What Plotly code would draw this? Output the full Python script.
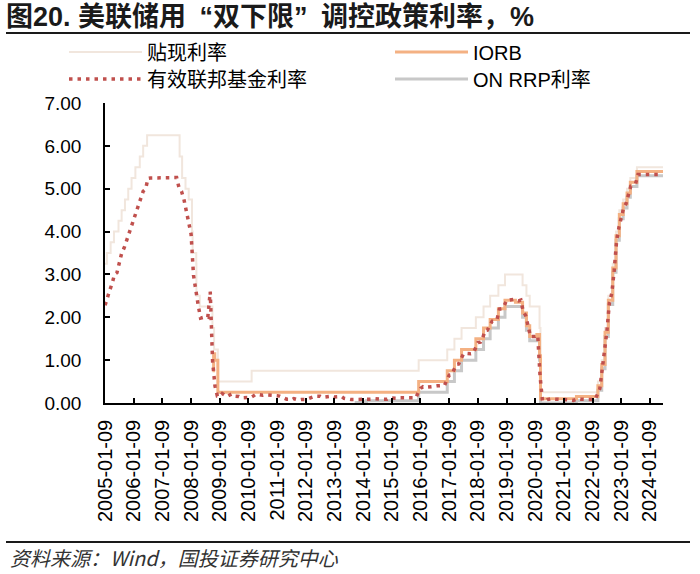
import pandas as pd
import plotly.graph_objects as go

# ---------------- data ----------------
discount_dates = ["2005-01-01", "2005-02-02", "2005-03-22", "2005-05-03", "2005-06-30", "2005-08-09",
                  "2005-09-20", "2005-11-01", "2005-12-13", "2006-01-31", "2006-03-28", "2006-05-10",
                  "2006-06-29", "2007-08-17", "2007-09-18", "2007-10-31", "2007-12-11", "2008-01-22",
                  "2008-01-30", "2008-03-16", "2008-03-18", "2008-04-30", "2008-10-08", "2008-10-29",
                  "2008-12-16", "2010-02-19", "2015-12-17", "2016-12-15", "2017-03-16", "2017-06-15",
                  "2017-12-14", "2018-03-22", "2018-06-14", "2018-09-27", "2018-12-20", "2019-08-01",
                  "2019-09-19", "2019-10-31", "2020-03-04", "2020-03-16", "2022-03-17", "2022-05-05",
                  "2022-06-16", "2022-07-28", "2022-09-22", "2022-11-03", "2022-12-15", "2023-02-02",
                  "2023-03-23", "2023-05-04", "2023-07-27", "2024-06-30"]
discount_vals = [3.25, 3.50, 3.75, 4.00, 4.25, 4.50,
                 4.75, 5.00, 5.25, 5.50, 5.75, 6.00,
                 6.25, 5.75, 5.25, 5.00, 4.75, 4.00,
                 3.50, 3.25, 2.50, 2.25, 1.75, 1.25,
                 0.50, 0.75, 1.00, 1.25, 1.50, 1.75,
                 2.00, 2.25, 2.50, 2.75, 3.00, 2.75,
                 2.50, 2.25, 1.75, 0.25, 0.50, 1.00,
                 1.75, 2.50, 3.25, 4.00, 4.50, 4.75,
                 5.00, 5.25, 5.50, 5.50]

iorb_dates = ["2008-10-09", "2008-10-23", "2008-11-06", "2008-12-16", "2015-12-17", "2016-12-15",
              "2017-03-16", "2017-06-15", "2017-12-14", "2018-03-22", "2018-06-14", "2018-09-27",
              "2018-12-20", "2019-05-02", "2019-08-01", "2019-09-19", "2019-10-31", "2020-01-30",
              "2020-03-04", "2020-03-16", "2021-06-17", "2022-03-17", "2022-05-05", "2022-06-16",
              "2022-07-28", "2022-09-22", "2022-11-03", "2022-12-15", "2023-02-02", "2023-03-23",
              "2023-05-04", "2023-07-27", "2024-06-30"]
iorb_vals = [0.75, 1.15, 1.00, 0.25, 0.50, 0.75,
             1.00, 1.25, 1.50, 1.75, 1.95, 2.20,
             2.40, 2.35, 2.10, 1.80, 1.55, 1.60,
             1.10, 0.10, 0.15, 0.40, 0.90, 1.65,
             2.40, 3.15, 3.90, 4.40, 4.65, 4.90,
             5.15, 5.40, 5.40]

rrp_dates = ["2013-09-23", "2014-01-30", "2014-02-20", "2015-12-17", "2016-12-15", "2017-03-16",
             "2017-06-15", "2017-12-14", "2018-03-22", "2018-06-14", "2018-09-27", "2018-12-20",
             "2019-08-01", "2019-09-19", "2019-10-31", "2020-03-04", "2020-03-16", "2021-06-17",
             "2022-03-17", "2022-05-05", "2022-06-16", "2022-07-28", "2022-09-22", "2022-11-03",
             "2022-12-15", "2023-02-02", "2023-03-23", "2023-05-04", "2023-07-27", "2024-06-30"]
rrp_vals = [0.01, 0.03, 0.05, 0.25, 0.50, 0.75,
            1.00, 1.25, 1.50, 1.75, 2.00, 2.25,
            2.00, 1.70, 1.45, 1.00, 0.00, 0.05,
            0.30, 0.80, 1.55, 2.30, 3.05, 3.80,
            4.30, 4.55, 4.80, 5.05, 5.30, 5.30]

# effective federal funds rate, monthly readings 2005-01 .. 2024-06
effr_vals = [
    2.28, 2.50, 2.63, 2.79, 3.00, 3.04, 3.26, 3.50, 3.62, 3.78, 4.00, 4.16,   # 2005
    4.29, 4.49, 4.59, 4.79, 4.94, 4.99, 5.24, 5.25, 5.25, 5.25, 5.25, 5.24,   # 2006
    5.25, 5.26, 5.26, 5.25, 5.25, 5.25, 5.26, 5.02, 4.94, 4.76, 4.49, 4.24,   # 2007
    3.94, 2.98, 2.61, 2.28, 1.98, 2.00, 2.01, 2.00, 2.60, 0.97, 0.39, 0.16,   # 2008
    0.15, 0.22, 0.18, 0.15, 0.18, 0.21, 0.16, 0.16, 0.15, 0.12, 0.12, 0.12,   # 2009
    0.11, 0.13, 0.16, 0.20, 0.20, 0.18, 0.18, 0.19, 0.19, 0.19, 0.19, 0.18,   # 2010
    0.17, 0.16, 0.14, 0.10, 0.09, 0.09, 0.07, 0.10, 0.08, 0.07, 0.08, 0.07,   # 2011
    0.08, 0.10, 0.13, 0.14, 0.16, 0.16, 0.16, 0.13, 0.14, 0.16, 0.16, 0.16,   # 2012
    0.14, 0.15, 0.14, 0.15, 0.11, 0.09, 0.09, 0.08, 0.08, 0.09, 0.08, 0.09,   # 2013
    0.07, 0.07, 0.08, 0.09, 0.09, 0.10, 0.09, 0.09, 0.09, 0.09, 0.09, 0.12,   # 2014
    0.11, 0.11, 0.11, 0.12, 0.12, 0.13, 0.13, 0.14, 0.14, 0.12, 0.12, 0.24,   # 2015
    0.34, 0.38, 0.36, 0.37, 0.37, 0.38, 0.39, 0.40, 0.40, 0.40, 0.41, 0.54,   # 2016
    0.65, 0.66, 0.79, 0.90, 0.91, 1.04, 1.15, 1.16, 1.15, 1.15, 1.16, 1.30,   # 2017
    1.41, 1.42, 1.51, 1.69, 1.70, 1.82, 1.91, 1.91, 1.95, 2.19, 2.20, 2.27,   # 2018
    2.40, 2.40, 2.41, 2.42, 2.39, 2.38, 2.40, 2.13, 2.04, 1.83, 1.55, 1.55,   # 2019
    1.55, 1.58, 0.65, 0.05, 0.05, 0.08, 0.09, 0.10, 0.09, 0.09, 0.09, 0.09,   # 2020
    0.09, 0.08, 0.07, 0.07, 0.06, 0.08, 0.10, 0.09, 0.08, 0.08, 0.08, 0.08,   # 2021
    0.08, 0.08, 0.20, 0.33, 0.77, 1.21, 1.68, 2.33, 2.56, 3.08, 3.78, 4.10,   # 2022
    4.33, 4.57, 4.65, 4.83, 5.06, 5.08, 5.12, 5.33, 5.33, 5.33, 5.33, 5.33,   # 2023
    5.33, 5.33, 5.33, 5.33, 5.33, 5.33,                                       # 2024
]
effr_dates = (pd.date_range("2005-01-01", periods=len(effr_vals), freq="MS")
              + pd.Timedelta(days=9)).strftime("%Y-%m-%d").tolist()

tick_labels = [f"{y}-01-09" for y in range(2005, 2025)]

title_text = "图20. 美联储用\u2002“双下限”\u2002调控政策利率，%"
source_text = "资料来源：Wind，国投证券研究中心"

# ---------------- figure ----------------
W, H = 700, 574
L, R, T, B = 105, 37, 103, 171
PW, PH = W - L - R, H - T - B


def px_x(p):
    return (p - L) / PW


def px_y(p):
    return (H - B - p) / PH


base_font = "Liberation Sans, Arial, Noto Sans CJK SC, sans-serif"

fig = go.Figure()
fig.add_trace(go.Scatter(x=discount_dates, y=discount_vals, name="贴现利率", mode="lines", showlegend=True,
                         line=dict(color="#F1E6DD", width=2, shape="hv"), legend="legend"))
fig.add_trace(go.Scatter(x=rrp_dates, y=rrp_vals, name="ON RRP利率", mode="lines", showlegend=True,
                         line=dict(color="#C8C8C8", width=3, shape="hv"), legend="legend4"))
fig.add_trace(go.Scatter(x=iorb_dates, y=iorb_vals, name="IORB", mode="lines", showlegend=True,
                         line=dict(color="#F4B183", width=3, shape="hv"), legend="legend2"))
fig.add_trace(go.Scatter(x=effr_dates, y=effr_vals, name="有效联邦基金利率", mode="lines", showlegend=True,
                         line=dict(color="#C0504D", width=3.5, dash="3.5px,5px"), legend="legend3"))


def leg(xp, yp):
    return dict(x=px_x(xp), y=px_y(yp), xanchor="left", yanchor="middle",
                itemwidth=73, font=dict(family=base_font, size=20, color="#000000"),
                bgcolor="rgba(0,0,0,0)", borderwidth=0, visible=True)


fig.update_layout(
    width=W, height=H,
    showlegend=True,
    margin=dict(l=L, r=R, t=T, b=B, pad=0),
    paper_bgcolor="white", plot_bgcolor="white",
    font=dict(family=base_font, size=19, color="#000000"),
    title=dict(text=title_text, x=6 / W, xanchor="left", y=1 - 17 / H, yanchor="middle",
               xref="container", yref="container",
               font=dict(family="Liberation Sans, Noto Sans CJK SC, sans-serif", size=27,
                         color="#1a1a1a", weight="bold")),
    legend=leg(64, 52),
    legend2=leg(390, 52),
    legend3=leg(64, 79),
    legend4=leg(390, 79),
    xaxis=dict(type="date", range=["2005-01-09", "2024-06-23"],
               tickvals=tick_labels, ticktext=tick_labels, tickangle=-90,
               ticks="inside", ticklen=5, tickwidth=1.5, tickcolor="#000",
               showline=True, linecolor="#000", linewidth=1.5,
               showgrid=False, zeroline=False,
               tickfont=dict(size=20, color="#000"), ticklabelstandoff=7),
    yaxis=dict(range=[0, 7], tick0=0, dtick=1, tickformat=".2f",
               ticks="inside", ticklen=5, tickwidth=1.5, tickcolor="#000",
               showline=True, linecolor="#000", linewidth=1.5,
               showgrid=False, zeroline=False,
               tickfont=dict(size=19, color="#000"), ticklabelstandoff=18),
    shapes=[
        dict(type="line", xref="paper", yref="paper", x0=px_x(6), x1=px_x(690),
             y0=px_y(33), y1=px_y(33), line=dict(color="#1a1a1a", width=2)),
        dict(type="line", xref="paper", yref="paper", x0=px_x(6), x1=px_x(690),
             y0=px_y(542), y1=px_y(542), line=dict(color="#1a1a1a", width=2)),
    ],
    annotations=[
        dict(text=source_text, xref="paper", yref="paper", x=px_x(8), y=px_y(557),
             xanchor="left", yanchor="middle", showarrow=False,
             font=dict(family="Noto Sans CJK SC, sans-serif", size=20, color="#333333", style="italic")),
    ],
)

fig.write_html("out.html")
